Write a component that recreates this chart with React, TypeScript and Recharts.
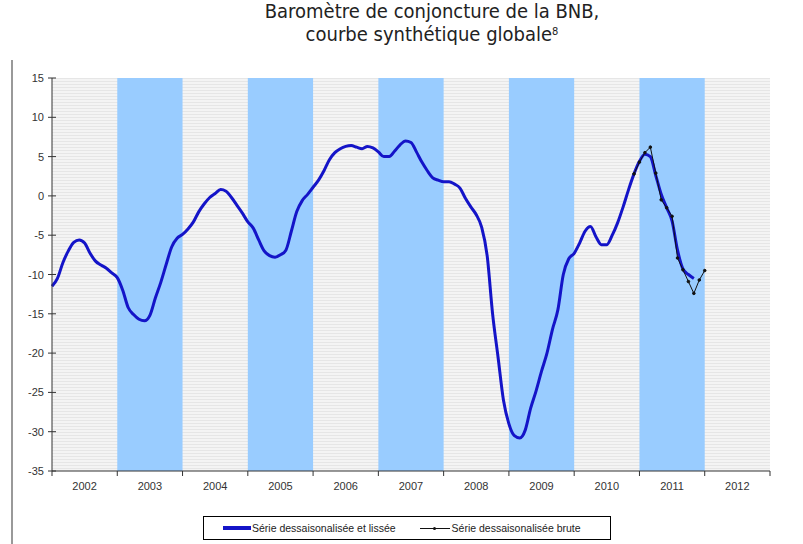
import React from 'react';
import { LineChart, Line, XAxis, YAxis, ReferenceArea } from 'recharts';

// month index 0 = January 2002
const years = ['2002', '2003', '2004', '2005', '2006', '2007', '2008', '2009', '2010', '2011', '2012'];
const shadedYears = ['2003', '2005', '2007', '2009', '2011'];
const yTicks = [-35, -30, -25, -20, -15, -10, -5, 0, 5, 10, 15];

// Série dessaisonalisée et lissée, Jan 2002 .. Nov 2011
const smoothed = [
    -11.5, -10.5, -8.5, -7.0, -5.9, -5.6, -6.0, -7.3, -8.3, -8.8, -9.2, -9.8,
    -10.4, -12.0, -14.2, -15.1, -15.7, -15.9, -15.2, -13.0, -11.0, -8.7, -6.5, -5.4,
    -4.9, -4.2, -3.3, -2.0, -1.0, -0.2, 0.3, 0.8, 0.6, -0.2, -1.2, -2.2,
    -3.3, -4.1, -5.6, -7.0, -7.6, -7.8, -7.5, -6.9, -4.5, -2.0, -0.6, 0.2,
    1.1, 2.0, 3.2, 4.6, 5.5, 6.0, 6.3, 6.4, 6.2, 6.0, 6.3, 6.1,
    5.6, 5.0, 5.0, 5.7, 6.5, 7.0, 6.8, 5.6, 4.3, 3.2, 2.3, 2.0,
    1.8, 1.8, 1.5, 1.0, -0.3, -1.4, -2.4, -4.0, -7.6, -15.0, -20.5, -26.0,
    -29.0, -30.5, -30.8, -29.8, -27.0, -24.8, -22.3, -20.0, -17.0, -14.5, -10.0, -8.0,
    -7.3, -6.0, -4.5, -3.9, -5.2, -6.2, -6.2, -5.0, -3.4, -1.4, 0.8, 2.8,
    4.4, 5.3, 5.0, 2.6, 0.2, -1.5, -3.2, -6.9, -9.3, -10.0, -10.5,
];

// Série dessaisonalisée brute, Dec 2010 .. Jan 2012
const rawStart = 107;
const raw = [2.8, 4.3, 5.5, 6.2, 2.9, -0.5, -1.5, -2.6, -7.9, -9.4, -10.9, -12.4, -10.7, -9.5];

const smoothedData = smoothed.map((v, i) => ({ m: i, v }));
const rawData = raw.map((v, i) => ({ m: rawStart + i, v }));
const yearTicks = years.map((_, i) => i * 12).concat([years.length * 12]);

const font = '"Liberation Sans", Arial, sans-serif';

const YTick = (props: any) => {
    const { x, y, payload } = props;
    return (
        <g>
            <line x1={x + 2} x2={x + 10} y1={y} y2={y} stroke="#333" />
            <text x={x - 2} y={y} dy={4} textAnchor="end" fontSize={11} fill="#333" fontFamily={font}>
                {payload.value}
            </text>
        </g>
    );
};

const XTick = (props: any) => {
    const { x, y, index } = props;
    const label = years[index];
    return (
        <g>
            <line x1={x} x2={x} y1={y - 8} y2={y - 3} stroke="#333" />
            {label && (
                <text x={x + 32.6} y={y} dy={11} textAnchor="middle" fontSize={11} fill="#333" fontFamily={font}>
                    {label}
                </text>
            )}
        </g>
    );
};

const App = () => {
    return (
        <div style={{ position: 'absolute', left: 0, top: 0, width: 803, height: 544, background: '#fff', fontFamily: font }}>
            <div style={{ position: 'absolute', left: 11, top: 60, width: 2, height: 484, background: '#999' }} />
            <div
                style={{
                    position: 'absolute',
                    left: 232,
                    width: 400,
                    top: 0,
                    textAlign: 'center',
                    fontFamily: '"DejaVu Sans Condensed", "Liberation Sans Narrow", sans-serif',
                    fontSize: 20,
                    lineHeight: '23px',
                    color: '#222',
                }}
            >
                <div>Baromètre de conjoncture de la BNB,</div>
                <div>
                    courbe synthétique globale
                    <span style={{ fontSize: 11, position: 'relative', top: -6, lineHeight: '11px' }}>8</span>
                </div>
            </div>
            <LineChart width={803} height={544} data={smoothedData} margin={{ top: 78, right: 33, bottom: 48, left: 12 }}>
                <defs>
                    <pattern id="greyLines" width="4" height="3" patternUnits="userSpaceOnUse">
                        <rect width="4" height="3" fill="#F4F4F4" />
                        <rect width="4" height="1" fill="#E6E6E6" />
                    </pattern>
                </defs>
                <XAxis
                    type="number"
                    dataKey="m"
                    domain={[0, 132]}
                    ticks={yearTicks}
                    interval={0}
                    height={25}
                    stroke="#333"
                    tickLine={false}
                    tickSize={0}
                    tickMargin={8}
                    tick={<XTick />}
                />
                <YAxis
                    type="number"
                    domain={[-35, 15]}
                    ticks={yTicks}
                    interval={0}
                    width={40}
                    stroke="#333"
                    tickLine={false}
                    tickSize={0}
                    tickMargin={6}
                    tick={<YTick />}
                />
                <ReferenceArea x1={0} x2={132} y1={-35} y2={15} fill="url(#greyLines)" fillOpacity={1} stroke="none" />
                {shadedYears.map((yr) => {
                    const i = years.indexOf(yr);
                    return (
                        <ReferenceArea key={yr} x1={i * 12} x2={(i + 1) * 12} y1={-35} y2={15} fill="#99CCFF" fillOpacity={1} stroke="none" />
                    );
                })}
                <Line
                    data={smoothedData}
                    dataKey="v"
                    type="monotone"
                    stroke="#1414C8"
                    strokeWidth={3}
                    dot={false}
                    isAnimationActive={false}
                    name="Série dessaisonalisée et lissée"
                />
                <Line
                    data={rawData}
                    dataKey="v"
                    type="linear"
                    stroke="#111"
                    strokeWidth={1}
                    dot={{ r: 1.3, fill: '#111', stroke: '#111' }}
                    isAnimationActive={false}
                    name="Série dessaisonalisée brute"
                />
            </LineChart>
            <div
                style={{
                    position: 'absolute',
                    left: 203,
                    top: 516,
                    width: 408,
                    height: 24,
                    border: '1px solid #000',
                    display: 'flex',
                    alignItems: 'center',
                    justifyContent: 'flex-start',
                    paddingLeft: 19,
                    boxSizing: 'border-box',
                    fontSize: 10.5,
                    color: '#222',
                    whiteSpace: 'nowrap',
                }}
            >
                <span style={{ display: 'inline-block', width: 28, height: 4, background: '#1414C8', marginRight: 1 }} />
                <span>Série dessaisonalisée et lissée</span>
                <span style={{ display: 'inline-block', width: 30, height: 1, background: '#111', marginLeft: 24, marginRight: 2, position: 'relative' }}>
                    <span style={{ position: 'absolute', left: 13, top: -1, width: 3, height: 3, background: '#111', borderRadius: 2 }} />
                </span>
                <span>Série dessaisonalisée brute</span>
            </div>
        </div>
    );
};

export default App;
